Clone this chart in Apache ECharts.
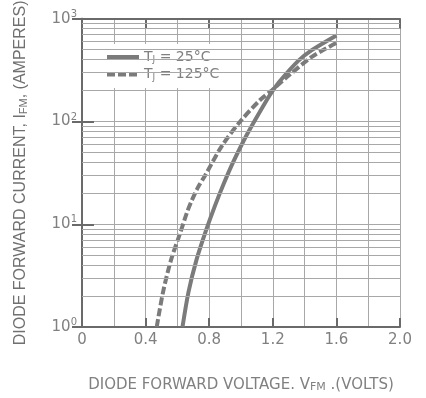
<!DOCTYPE html>
<html>
<head>
<meta charset="utf-8">
<script src="https://cdn.jsdelivr.net/npm/echarts@6/dist/echarts.min.js"></script>
<style>
html,body{margin:0;padding:0;background:#fff;}
#chart{width:426px;height:398px;}
</style>
</head>
<body>
<div id="chart"></div>
<script>
// Forward voltage (V) and forward current (A)
var vf25 = [0.632, 0.67, 0.72, 0.78, 0.836, 0.89, 0.95, 1.04, 1.162, 1.2, 1.245, 1.36, 1.445, 1.6];
var if25 = [1, 2.2, 4.5, 8.7, 15.1, 24.5, 40, 76, 162, 200, 248, 389, 495, 689];
var vf125 = [0.47, 0.51, 0.56, 0.615, 0.66, 0.69, 0.73, 0.775, 0.88, 0.995, 1.12, 1.195, 1.3, 1.445, 1.6];
var if125 = [1, 2.2, 4.5, 8, 13, 17, 23, 30, 58, 100, 162, 202, 280, 425, 582];
var seriesNames = ['T{s|J} = 25°C', 'T{s|J} = 125°C'];
var xTickLabels = ['0', '0.4', '0.8', '1.2', '1.6', '2.0'];
var minorGridValues = [2,3,4,5,6,7,8,9,20,30,40,50,60,70,80,90,200,300,400,500,600,700,800,900];

function pairs(xs, ys) { return xs.map(function (x, i) { return [x, ys[i]]; }); }

var gridColor = '#a8a8a8';
var axisColor = '#6a6a6a';
var textColor = '#808080';
var curveColor = '#7b7b7b';

var chart = echarts.init(document.getElementById('chart'), null, {renderer: 'canvas'});
chart.setOption({
  animation: false,
  backgroundColor: '#fff',
  grid: {left: 82, right: 26, top: 17, bottom: 66, containLabel: false},
  legend: {
    left: 97, top: 44, orient: 'vertical',
    backgroundColor: '#fff', padding: [6, 8, 6, 8],
    itemWidth: 32, itemHeight: 14, itemGap: 3,
    data: seriesNames,
    itemStyle: {opacity: 0, color: 'transparent', borderWidth: 0},
    lineStyle: {width: 4},
    textStyle: {
      fontFamily: 'DejaVu Sans', fontSize: 14, color: textColor,
      rich: {s: {fontFamily: 'DejaVu Sans', fontSize: 9, color: textColor, padding: [6, 0, 0, 0]}}
    }
  },
  xAxis: [
    {
      type: 'value', min: 0, max: 2, interval: 0.4, position: 'bottom',
      name: 'DIODE FORWARD VOLTAGE. V{s|FM} .(VOLTS)',
      nameLocation: 'middle', nameGap: 50,
      nameTextStyle: {
        fontFamily: 'DejaVu Sans', fontSize: 15, color: textColor,
        rich: {s: {fontFamily: 'DejaVu Sans', fontSize: 11, color: textColor, padding: [5, 0, 0, 0]}}
      },
      axisLine: {show: true, lineStyle: {color: axisColor, width: 2}},
      axisTick: {show: true, inside: true, length: 9, lineStyle: {color: axisColor, width: 2}},
      axisLabel: {
        margin: 6, fontFamily: 'DejaVu Sans', fontSize: 15, color: textColor,
        formatter: function (v) { return xTickLabels[Math.round(v / 0.4)]; }
      },
      splitLine: {show: false}
    },
    {
      type: 'value', min: 0, max: 2, interval: 0.2, position: 'bottom',
      axisLine: {show: false}, axisTick: {show: false}, axisLabel: {show: false},
      splitLine: {show: true, lineStyle: {color: gridColor, width: 1}}
    },
    {
      type: 'value', min: 0, max: 2, interval: 0.4, position: 'top',
      axisLine: {show: true, lineStyle: {color: axisColor, width: 2}},
      axisTick: {show: true, inside: true, length: 10, lineStyle: {color: axisColor, width: 2}},
      axisLabel: {show: false}, splitLine: {show: false}
    }
  ],
  yAxis: [
    {
      type: 'log', logBase: 10, min: 1, max: 1000, position: 'left',
      name: 'DIODE FORWARD CURRENT, I{s|FM}, (AMPERES)',
      nameLocation: 'middle', nameGap: 53, nameRotate: 90,
      nameTextStyle: {
        fontFamily: 'Liberation Sans', fontSize: 16, color: '#707070',
        rich: {s: {fontFamily: 'Liberation Sans', fontSize: 11, color: '#707070', padding: [6, 0, 0, 0]}}
      },
      axisLine: {show: true, lineStyle: {color: axisColor, width: 2}},
      axisTick: {show: true, inside: true, length: 12, lineStyle: {color: axisColor, width: 2}},
      axisLabel: {
        margin: 5,
        formatter: function (v) { return '{b|10}{s|' + Math.round(Math.log10(v)) + '}'; },
        rich: {
          b: {fontFamily: 'DejaVu Sans', fontSize: 15, color: textColor},
          s: {fontFamily: 'DejaVu Sans', fontSize: 10, color: textColor, padding: [0, 0, 9, 0]}
        }
      },
      splitLine: {show: true, lineStyle: {color: gridColor, width: 1}}
    },
    {
      type: 'log', logBase: 10, min: 1, max: 1000, position: 'right',
      axisLine: {show: true, lineStyle: {color: axisColor, width: 2}},
      axisTick: {show: true, inside: true, length: 10, lineStyle: {color: axisColor, width: 2}},
      axisLabel: {show: false}, splitLine: {show: false}
    }
  ],
  series: [
    {
      name: 'minor', type: 'line', data: [], silent: true,
      markLine: {
        silent: true, symbol: 'none', label: {show: false}, animation: false,
        lineStyle: {color: gridColor, width: 1, type: 'solid'},
        data: minorGridValues.map(function (v) { return {yAxis: v}; })
      }
    },
    {
      name: seriesNames[0], type: 'line', data: pairs(vf25, if25),
      smooth: 0.3, symbol: 'none', z: 3,
      lineStyle: {color: curveColor, width: 4, type: 'solid'},
      itemStyle: {color: curveColor}
    },
    {
      name: seriesNames[1], type: 'line', data: pairs(vf125, if125),
      smooth: 0.3, symbol: 'none', z: 3,
      lineStyle: {color: curveColor, width: 4, type: [8, 3]},
      itemStyle: {color: curveColor}
    }
  ]
});
</script>
</body>
</html>
